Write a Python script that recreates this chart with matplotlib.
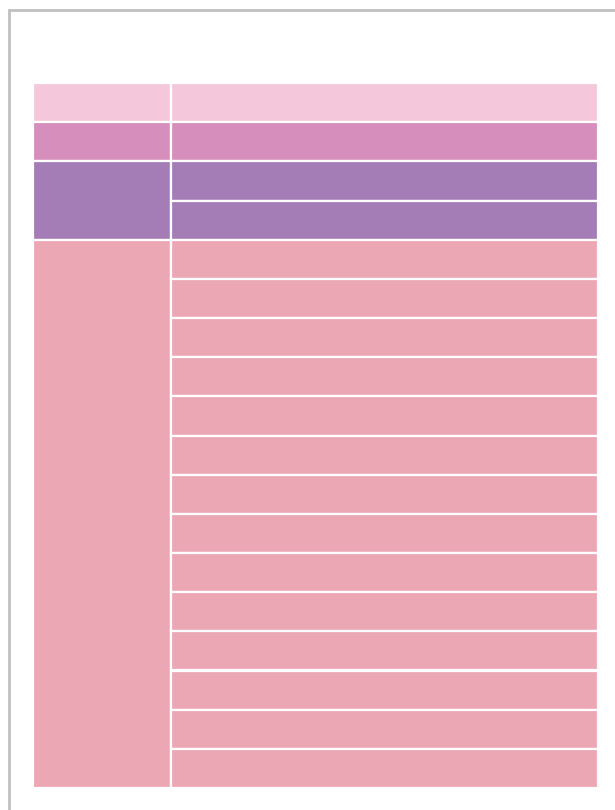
import matplotlib
matplotlib.use("Agg")
import matplotlib.pyplot as plt
from matplotlib.patches import Rectangle

# Level-1 groups and their sizes (number of leaves)
groups = ["A", "B", "C", "D"]
group_sizes = [1, 1, 2, 14]
group_colors = ["#F4C8DA", "#D68FBC", "#A57DB6", "#ECA7B5"]
# Level-2 leaves: each leaf has value 1, belonging to groups above
leaf_values = [1] * 18

fig = plt.figure(figsize=(6.15, 8.10), dpi=100)
W, H = 615, 810
ax = fig.add_axes([33 / W, (H - 788) / H, (598 - 33) / W, (788 - 83) / H])
total = sum(group_sizes)
ax.set_xlim(0, 1)
ax.set_ylim(total, 0)
ax.axis("off")

split = 0.245
start = 0
li = 0
for g, size, col in zip(groups, group_sizes, group_colors):
    ax.bar(0, size, width=split, bottom=start, align="edge",
           color=col, edgecolor="white", linewidth=1.6)
    pos = start
    for _ in range(size):
        v = leaf_values[li]
        ax.bar(split, v, width=1 - split, bottom=pos, align="edge",
               color=col, edgecolor="white", linewidth=1.6)
        pos += v
        li += 1
    start += size

# outer frame
fig.patches.append(Rectangle((9 / W, -0.1), 1.2, 1.1 - 10 / H,
                             transform=fig.transFigure, fill=False,
                             edgecolor="#C0C0C0", linewidth=2.0))

fig.savefig("out.png", dpi=100)
